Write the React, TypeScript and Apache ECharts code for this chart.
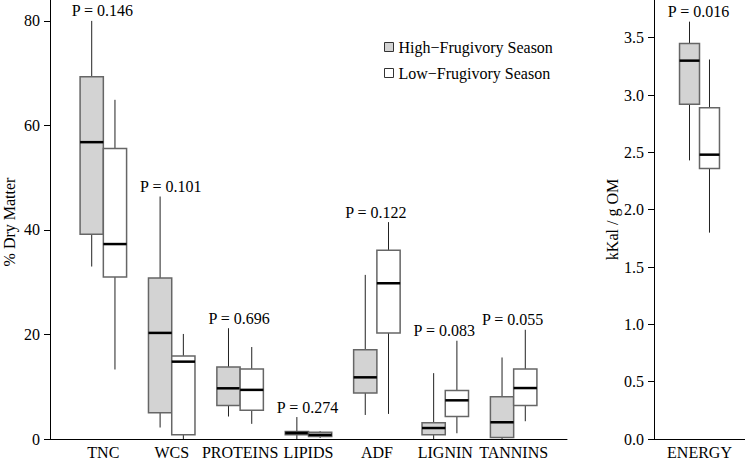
import React, { useEffect, useRef } from "react";
import * as echarts from "echarts";

const FONT = '"Liberation Serif", "Times New Roman", serif';
const FS = 16;

const categories = ["TNC", "WCS", "PROTEINS", "LIPIDS", "ADF", "LIGNIN", "TANNINS"];
const pValues = ["0.146", "0.101", "0.696", "0.274", "0.122", "0.083", "0.055"];
// [min, q1, median, q3, max]
const highSeason = [
  [33.0, 39.2, 56.8, 69.3, 80.0],
  [2.2, 5.0, 20.3, 30.8, 46.4],
  [4.3, 6.4, 9.7, 13.8, 21.2],
  [0.0, 0.8, 1.15, 1.45, 4.2],
  [4.6, 8.8, 11.8, 17.1, 31.4],
  [0.0, 0.8, 2.1, 3.1, 12.6],
  [0.0, 0.3, 3.2, 8.1, 15.6],
];
const lowSeason = [
  [13.3, 31.0, 37.3, 55.6, 64.9],
  [0.0, 0.8, 14.8, 15.9, 20.1],
  [2.9, 5.5, 9.4, 13.4, 17.6],
  [0.2, 0.5, 0.8, 1.3, 1.5],
  [4.8, 20.3, 29.8, 36.1, 41.5],
  [1.1, 4.3, 7.4, 9.3, 18.8],
  [3.4, 6.4, 9.75, 13.4, 20.9],
];
const energyCategories = ["ENERGY"];
const energyP = ["0.016"];
const energyHigh = [[2.43, 2.92, 3.30, 3.45, 3.64]];
const energyLow = [[1.80, 2.36, 2.48, 2.89, 3.31]];
const leftTicks = [0, 20, 40, 60, 80];
const rightTicks = [0, 0.5, 1.0, 1.5, 2.0, 2.5, 3.0, 3.5];
const seriesNames = ["High\u2212Frugivory Season", "Low\u2212Frugivory Season"];
const leftTitle = "% Dry Matter";
const rightTitle = "kKal / g OM";

const GRAY = "#d3d3d3";
const BORDER = "#666666";

function boxRender(side: number, widthUnits: number, fill: string) {
  return (params: any, api: any) => {
    const pos = api.value(0);
    const w = api.size([widthUnits, 0])[0];
    const cx = api.coord([pos, 0])[0] + (side * w) / 2;
    const y = (d: number) => api.coord([pos, api.value(d)])[1];
    const yMin = y(1), yQ1 = y(2), yMed = y(3), yQ3 = y(4), yMax = y(5);
    return {
      type: "group",
      children: [
        { type: "line", shape: { x1: cx, y1: yMax, x2: cx, y2: yQ3 }, style: { stroke: "#222", lineWidth: 1 } },
        { type: "line", shape: { x1: cx, y1: yQ1, x2: cx, y2: yMin }, style: { stroke: "#222", lineWidth: 1 } },
        {
          type: "rect",
          shape: { x: cx - w / 2, y: yQ3, width: w, height: yQ1 - yQ3 },
          style: { fill, stroke: BORDER, lineWidth: 1.5 },
        },
        { type: "line", shape: { x1: cx - w / 2, y1: yMed, x2: cx + w / 2, y2: yMed }, style: { stroke: "#000", lineWidth: 2.5 } },
      ],
    };
  };
}

function labelRender(labels: string[]) {
  return (params: any, api: any) => {
    const p = api.coord([api.value(0), api.value(1)]);
    return {
      type: "text",
      x: p[0] - 1,
      y: p[1] - 10,
      style: {
        text: "P = " + labels[params.dataIndex],
        textAlign: "center",
        textVerticalAlign: "middle",
        align: "center",
        verticalAlign: "middle",
        fontSize: FS,
        fontFamily: FONT,
        fill: "#000",
      },
    };
  };
}

const toData = (arr: number[][]) => arr.map((r, i) => [i + 1, ...r]);
const topData = (a: number[][], b: number[][]) => a.map((r, i) => [i + 1, Math.max(r[4], b[i][4])]);

export default function App() {
  const ref = useRef<HTMLDivElement>(null);
  useEffect(() => {
    if (!ref.current) return;
    const chart = echarts.init(ref.current, undefined, { renderer: "svg" });
    const axisText = { fontSize: FS, fontFamily: FONT, color: "#000" };
    const lineStyle = { color: "#000", width: 1 };
    const option: any = {
      animation: false,
      backgroundColor: "#fff",
      textStyle: { fontFamily: FONT },
      graphic: [
        {
          type: "text",
          x: 9,
          y: 222,
          rotation: Math.PI / 2,
          style: {
            text: leftTitle,
            align: "center",
            verticalAlign: "middle",
            textAlign: "center",
            textVerticalAlign: "middle",
            fontSize: FS,
            fontFamily: FONT,
            fill: "#000",
          },
        },
      ],
      legend: {
        orient: "vertical",
        left: 384,
        top: 39,
        padding: 0,
        itemWidth: 9,
        itemHeight: 9,
        itemGap: 10,
        textStyle: { fontSize: FS, fontFamily: FONT, color: "#000", lineHeight: 16 },
        data: [
          { name: seriesNames[0], icon: "rect", itemStyle: { color: GRAY, borderColor: "#333", borderWidth: 1 } },
          { name: seriesNames[1], icon: "rect", itemStyle: { color: "#fff", borderColor: "#333", borderWidth: 1 } },
        ],
      },
      grid: [
        { left: 50, top: 0, width: 517, height: 439, outerBoundsMode: "none", containLabel: false },
        { left: 654, top: 0, width: 91, height: 439, outerBoundsMode: "none", containLabel: false },
      ],
      xAxis: [
        {
          gridIndex: 0,
          type: "value",
          min: 0.22,
          max: 7.78,
          axisLine: { show: true, lineStyle },
          axisTick: { show: false },
          splitLine: { show: false },
          axisLabel: {
            ...axisText,
            margin: 5,
            customValues: categories.map((_, i) => i + 1),
            formatter: (v: number) => categories[Math.round(v) - 1] ?? "",
          },
        },
        {
          gridIndex: 1,
          type: "value",
          min: 0.46,
          max: 1.54,
          axisLine: { show: true, lineStyle },
          axisTick: { show: false },
          splitLine: { show: false },
          axisLabel: {
            ...axisText,
            margin: 5,
            customValues: energyCategories.map((_, i) => i + 1),
            formatter: (v: number) => energyCategories[Math.round(v) - 1] ?? "",
          },
        },
      ],
      yAxis: [
        {
          gridIndex: 0,
          type: "value",
          min: 0,
          max: 84,
          axisLine: { show: true, lineStyle },
          axisTick: { show: true, length: 6, lineStyle, customValues: leftTicks },
          splitLine: { show: false },
          axisLabel: { ...axisText, margin: 10, customValues: leftTicks },
        },
        {
          gridIndex: 1,
          type: "value",
          min: 0,
          max: 3.829,
          axisLine: { show: true, lineStyle },
          axisTick: { show: true, length: 6, lineStyle, customValues: rightTicks },
          splitLine: { show: false },
          axisLabel: {
            ...axisText,
            margin: 10,
            customValues: rightTicks,
            formatter: (v: number) => v.toFixed(1),
          },
          name: rightTitle,
          nameLocation: "middle",
          nameGap: 34,
          nameTextStyle: { fontSize: FS, fontFamily: FONT, color: "#000" },
        },
      ],
      series: [
        {
          type: "custom",
          name: seriesNames[0],
          xAxisIndex: 0,
          yAxisIndex: 0,
          itemStyle: { color: GRAY },
          encode: { x: 0, y: [1, 2, 3, 4, 5] },
          renderItem: boxRender(-1, 0.34, GRAY),
          data: toData(highSeason),
        },
        {
          type: "custom",
          name: seriesNames[1],
          xAxisIndex: 0,
          yAxisIndex: 0,
          itemStyle: { color: "#fff" },
          encode: { x: 0, y: [1, 2, 3, 4, 5] },
          renderItem: boxRender(1, 0.34, "#fff"),
          data: toData(lowSeason),
        },
        {
          type: "custom",
          xAxisIndex: 0,
          yAxisIndex: 0,
          encode: { x: 0, y: 1 },
          renderItem: labelRender(pValues),
          data: topData(highSeason, lowSeason),
        },
        {
          type: "custom",
          name: seriesNames[0],
          xAxisIndex: 1,
          yAxisIndex: 1,
          itemStyle: { color: GRAY },
          encode: { x: 0, y: [1, 2, 3, 4, 5] },
          renderItem: boxRender(-1, 0.237, GRAY),
          data: toData(energyHigh),
        },
        {
          type: "custom",
          name: seriesNames[1],
          xAxisIndex: 1,
          yAxisIndex: 1,
          itemStyle: { color: "#fff" },
          encode: { x: 0, y: [1, 2, 3, 4, 5] },
          renderItem: boxRender(1, 0.237, "#fff"),
          data: toData(energyLow),
        },
        {
          type: "custom",
          xAxisIndex: 1,
          yAxisIndex: 1,
          encode: { x: 0, y: 1 },
          renderItem: labelRender(energyP),
          data: topData(energyHigh, energyLow),
        },
      ],
    };
    chart.setOption(option);
    return () => chart.dispose();
  }, []);
  return (
    <div
      ref={ref}
      style={{ position: "absolute", left: 0, top: 0, width: 745, height: 460, background: "#fff" }}
    />
  );
}
